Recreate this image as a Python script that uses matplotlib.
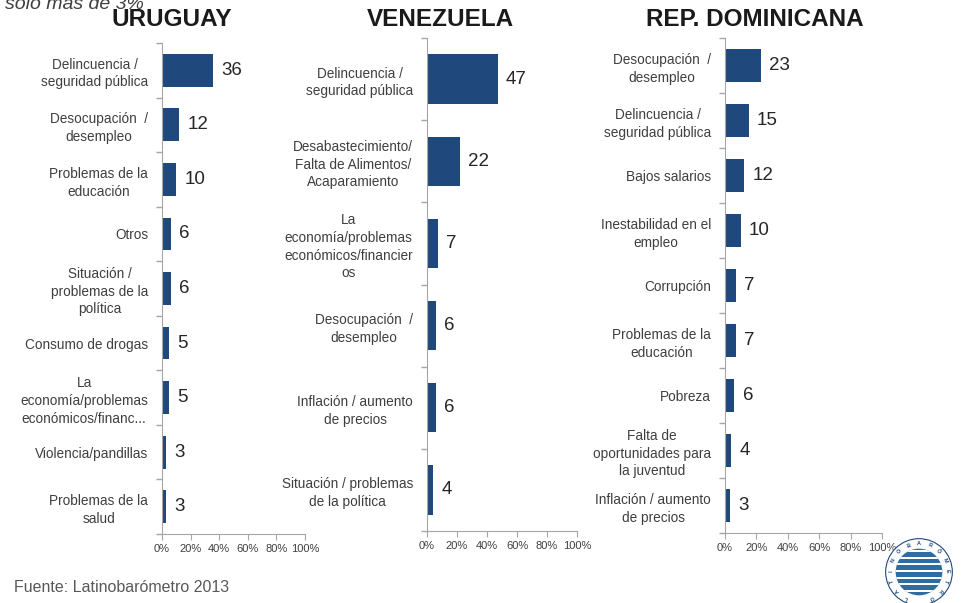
import numpy as np
import matplotlib.pyplot as plt
from matplotlib.patches import Circle, Rectangle

plt.rcParams['font.family'] = ['Liberation Sans', 'DejaVu Sans']

uy_labels = ['Delincuencia /\nseguridad pública', 'Desocupación  /\ndesempleo',
             'Problemas de la\neducación', 'Otros',
             'Situación /\nproblemas de la\npolítica', 'Consumo de drogas',
             'La\neconomía/problemas\neconómicos/financ...', 'Violencia/pandillas',
             'Problemas de la\nsalud']
uy_values = [36, 12, 10, 6, 6, 5, 5, 3, 3]

ve_labels = ['Delincuencia /\nseguridad pública',
             'Desabastecimiento/\nFalta de Alimentos/\nAcaparamiento',
             'La\neconomía/problemas\neconómicos/financier\nos',
             'Desocupación  /\ndesempleo', 'Inflación / aumento\nde precios',
             'Situación / problemas\nde la política']
ve_values = [47, 22, 7, 6, 6, 4]

rd_labels = ['Desocupación  /\ndesempleo', 'Delincuencia /\nseguridad pública',
             'Bajos salarios', 'Inestabilidad en el\nempleo', 'Corrupción',
             'Problemas de la\neducación', 'Pobreza',
             'Falta de\noportunidades para\nla juventud',
             'Inflación / aumento\nde precios']
rd_values = [23, 15, 12, 10, 7, 7, 6, 4, 3]

x_ticks = [0, 20, 40, 60, 80, 100]
x_ticklabels = ['0%', '20%', '40%', '60%', '80%', '100%']

W, H = 963, 603
fig = plt.figure(figsize=(W / 100, H / 100), dpi=100)

BAR = '#1f497d'
AXIS = '#a6a6a6'
TXT = '#3f3f3f'


def px_axes(left, top, right, bottom):
    return fig.add_axes([left / W, 1 - bottom / H, (right - left) / W, (bottom - top) / H])


def panel(box, title, title_x, labels, values):
    ax = px_axes(*box)
    n = len(values)
    pos = np.arange(n)
    ax.barh(pos, values, height=0.6, color=BAR)
    ax.set_xlim(0, 100)
    ax.set_ylim(n - 0.5, -0.5)
    for y, v in zip(pos, values):
        ax.annotate(str(v), (v, y), xytext=(6, 0), textcoords='offset points',
                    va='center', ha='left', fontsize=13.5, color='#262626')
    ax.set_yticks(pos)
    ax.set_yticklabels(labels, fontsize=9.8, color=TXT, multialignment='center',
                       linespacing=1.33)
    ax.set_yticks(np.arange(n + 1) - 0.5, minor=True)
    ax.tick_params(axis='y', which='major', length=0, pad=10)
    ax.tick_params(axis='y', which='minor', length=4, color=AXIS, width=1)
    ax.set_xticks(x_ticks)
    ax.set_xticklabels(x_ticklabels, fontsize=8, color=TXT)
    ax.tick_params(axis='x', length=4, color=AXIS, pad=3)
    for s in ('top', 'right'):
        ax.spines[s].set_visible(False)
    for s in ('left', 'bottom'):
        ax.spines[s].set_color(AXIS)
    fig.text(title_x / W, 1 - 20 / H, title, ha='center', va='center',
             fontsize=17.5, fontweight='bold', color='#1a1a1a')
    return ax


panel((162, 43, 305, 534), 'URUGUAY', 172, uy_labels, uy_values)
panel((427, 38, 577, 531), 'VENEZUELA', 440, ve_labels, ve_values)
panel((725, 38, 882, 533), 'REP. DOMINICANA', 755, rd_labels, rd_values)

fig.text(5 / W, 1 - 9 / H, 'sólo más de 3%', ha='left', va='baseline',
         fontsize=14, style='italic', color='#3f3f3f')
fig.text(14 / W, 1 - 587 / H, 'Fuente: Latinobarómetro 2013', ha='left', va='center',
         fontsize=11.5, color='#595959')

# small circular logo in the corner
lg = px_axes(884, 537, 954, 607)
lg.set_xlim(-1.05, 1.05)
lg.set_ylim(-1.05, 1.05)
lg.set_aspect('equal')
lg.axis('off')
lg.add_patch(Circle((0, 0), 1.0, facecolor='white', edgecolor='#1f497d', lw=0.8))
inner = Circle((0, 0), 0.7, facecolor='#2e6da4', edgecolor='none')
lg.add_patch(inner)
for k in range(7):
    r = Rectangle((-0.8, -0.7 + k * 0.2 + 0.1), 1.6, 0.06, facecolor='white', edgecolor='none')
    lg.add_patch(r)
    r.set_clip_path(inner)
ang = np.linspace(0.15 * np.pi, 1.85 * np.pi, 15)
for a, ch in zip(ang, 'LATINOBARÓMETRO'):
    lg.text(0.85 * np.cos(np.pi - a + np.pi / 2), 0.85 * np.sin(np.pi - a + np.pi / 2), ch,
            fontsize=4, ha='center', va='center', color='#1f497d', fontweight='bold',
            rotation=np.degrees(np.pi - a))

fig.savefig('out.png', dpi=100)
